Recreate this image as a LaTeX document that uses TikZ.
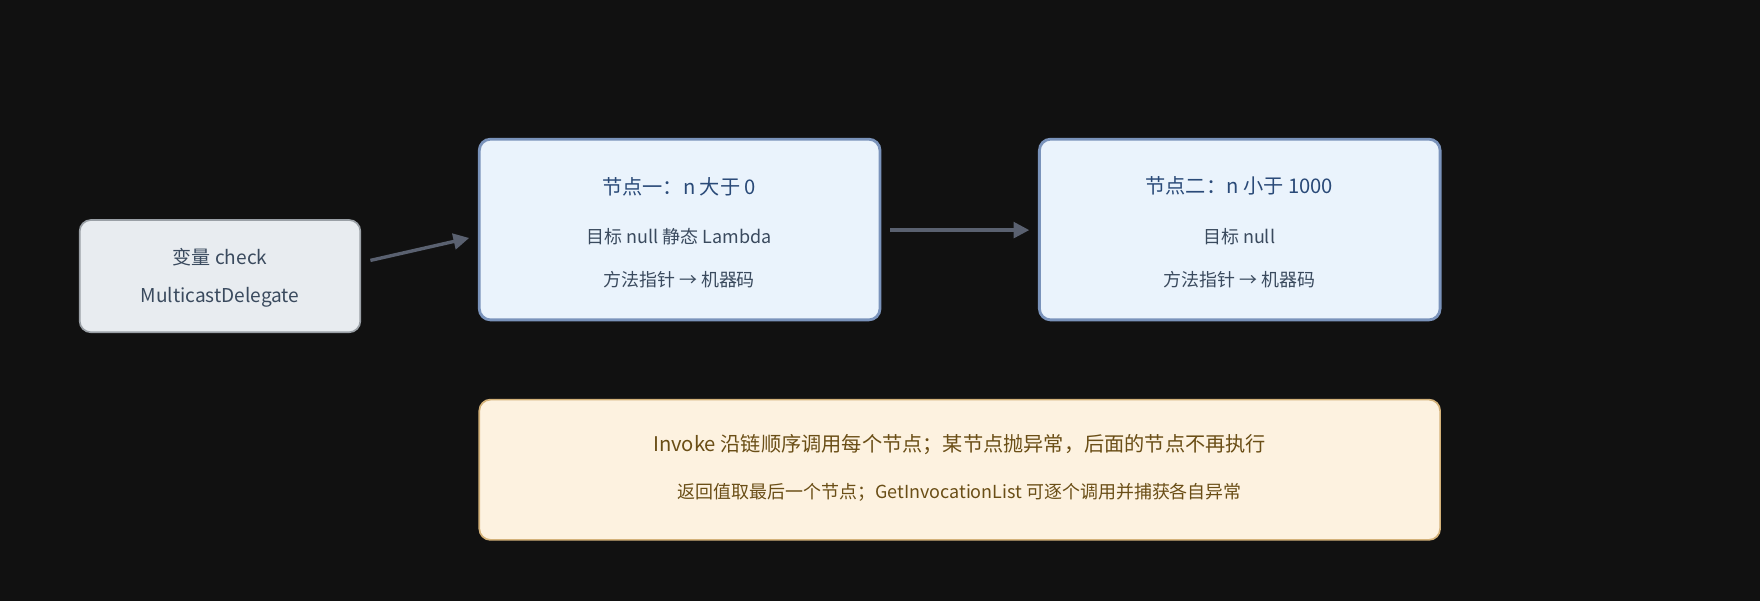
\documentclass[tikz,border=0pt]{standalone}
\usepackage{fontspec}
\setmainfont{Noto Sans CJK SC}
\usetikzlibrary{arrows.meta}
\definecolor{bg}{HTML}{111111}
\definecolor{varfill}{HTML}{E8ECF0}
\definecolor{vardraw}{HTML}{9AA0A6}
\definecolor{nfill}{HTML}{EAF3FC}
\definecolor{ndraw}{HTML}{7A93BB}
\definecolor{nfillb}{HTML}{FDF2E0}
\definecolor{ndrawb}{HTML}{D4B27A}
\definecolor{ttl}{HTML}{2A4A78}
\definecolor{txt}{HTML}{3A4A5E}
\definecolor{brn}{HTML}{6A4E16}
\definecolor{arr}{HTML}{5A6170}
\begin{document}
\begin{tikzpicture}[x=1pt,y=-1pt,
 box/.style={rounded corners=10pt,line width=2.5pt},
 ar/.style={draw=arr,line width=3pt,-{Triangle[length=14pt,width=14pt]}},
 t/.style={inner sep=0pt,anchor=center}]
\fill[bg] (0,0) rectangle (1568,535);
\useasboundingbox (0,0) rectangle (1568,535);
\draw[box,fill=varfill,draw=vardraw,line width=1.5pt] (71,196) rectangle (321,296);
\node[t,text=txt,font=\fontsize{17}{20}\selectfont] (v1) at (196,229) {变量 check};
\node[t,text=txt,font=\fontsize{17}{20}\selectfont] (v2) at (196,265) {MulticastDelegate};
\draw[box,fill=nfill,draw=ndraw] (427,124) rectangle (784,285);
\node[t,text=ttl,font=\fontsize{18}{22}\selectfont] (a1) at (605,166) {节点一：n 大于 0};
\node[t,text=txt,font=\fontsize{16}{20}\selectfont] (a2) at (605,211) {目标 null 静态 Lambda};
\node[t,text=txt,font=\fontsize{16}{20}\selectfont] (a3) at (605,249) {方法指针 → 机器码};
\draw[box,fill=nfill,draw=ndraw] (926,124) rectangle (1283,285);
\node[t,text=ttl,font=\fontsize{18}{22}\selectfont] (b1) at (1104,166) {节点二：n 小于 1000};
\node[t,text=txt,font=\fontsize{16}{20}\selectfont] (b2) at (1104,211) {目标 null};
\node[t,text=txt,font=\fontsize{16}{20}\selectfont] (b3) at (1104,249) {方法指针 → 机器码};
\draw[box,fill=nfillb,draw=ndrawb,line width=1.5pt] (427,356) rectangle (1283,481);
\node[t,text=brn,font=\fontsize{18}{22}\selectfont] (c1) at (855,396) {Invoke 沿链顺序调用每个节点；某节点抛异常，后面的节点不再执行};
\node[t,text=brn,font=\fontsize{16}{20}\selectfont] (c2) at (855,439) {返回值取最后一个节点；GetInvocationList 可逐个调用并捕获各自异常};
\coordinate (p1) at (330,232); \coordinate (p2) at (418,212);
\coordinate (q1) at (793,205); \coordinate (q2) at (917,205);
\draw[ar] (p1) -- (p2);
\draw[ar] (q1) -- (q2);
\end{tikzpicture}
\end{document}
